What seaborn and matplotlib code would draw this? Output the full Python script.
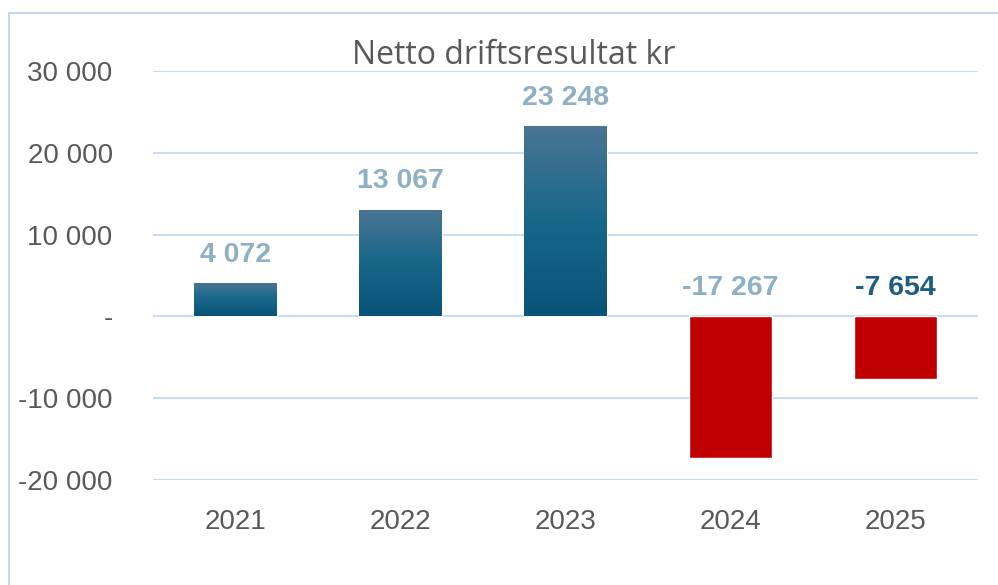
import matplotlib
matplotlib.use('Agg')
import matplotlib.pyplot as plt
import seaborn as sns
import numpy as np
from matplotlib.patches import Rectangle
from matplotlib.colors import LinearSegmentedColormap

# data
years = ['2021', '2022', '2023', '2024', '2025']
values = [4072, 13067, 23248, -17267, -7654]
label_colors = ['#8DB0C4', '#8DB0C4', '#8DB0C4', '#8DB0C4', '#1B5E80']
yticks = [-20000, -10000, 0, 10000, 20000, 30000]
ytick_labels = ['-20 000', '-10 000', '-', '10 000', '20 000', '30 000']

sns.set_style('white')
plt.rcParams['font.family'] = ['Liberation Sans', 'DejaVu Sans']

fig = plt.figure(figsize=(9.98, 5.85), dpi=100)
ax = fig.add_axes([153 / 998, 105 / 585, 825 / 998, 409 / 585])

# ramme rundt diagrammet (lys blå, kuttet i høyre/nedre kant)
fig.patches.append(Rectangle((8.5 / 998, -0.1), 1.2, (585 - 12.5) / 585 + 0.1,
                             transform=fig.transFigure, fill=False,
                             edgecolor='#C5D9EE', linewidth=1.5, zorder=0))

bar_colors = ['#1A6285' if v >= 0 else '#C00000' for v in values]
sns.barplot(x=years, y=values, hue=years, palette=bar_colors, legend=False,
            width=0.5, ax=ax, saturation=1, zorder=3)

# gradient på positive søyler
cmap = LinearSegmentedColormap.from_list('g', ['#0A5378', '#17678B', '#4B7593'])
grad = np.linspace(0, 1, 256).reshape(-1, 1)
for patch, v in zip(ax.patches, values):
    if v > 0:
        x0, y0 = patch.get_x(), patch.get_y()
        w, h = patch.get_width(), patch.get_height()
        im = ax.imshow(grad, cmap=cmap, origin='lower', aspect='auto',
                       extent=[x0, x0 + w, y0, y0 + h], zorder=4)
        im.set_clip_path(patch)

ax.set_xlim(-0.5, 4.5)
ax.set_ylim(-20000, 30000)
ax.set_yticks(yticks)
ax.set_yticklabels(ytick_labels)
ax.grid(axis='y', color='#C9DCF0', linewidth=1.5, zorder=0)
ax.axhline(0, color='#C9DCF0', linewidth=1.5, zorder=1)
for s in ax.spines.values():
    s.set_visible(False)
ax.tick_params(axis='y', labelsize=20, colors='#595959', pad=29, length=0)
ax.tick_params(axis='x', labelsize=20, colors='#595959', pad=21, length=0)
ax.set_xlabel('')
ax.set_ylabel('')

# dataetiketter
for i, (v, c) in enumerate(zip(values, label_colors)):
    txt = f'{v:,}'.replace(',', ' ')
    ax.annotate(txt, (i, max(v, 0)), xytext=(0, 11), textcoords='offset points',
                ha='center', va='bottom', fontsize=20.5, fontweight='bold',
                color=c, zorder=5)

fig.text(514 / 998, (585 - 64) / 585, 'Netto driftsresultat kr', ha='center',
         va='baseline', fontsize=23, color='#595959',
         family=['Open Sans', 'DejaVu Sans'])

fig.savefig('out.png', dpi=100)
